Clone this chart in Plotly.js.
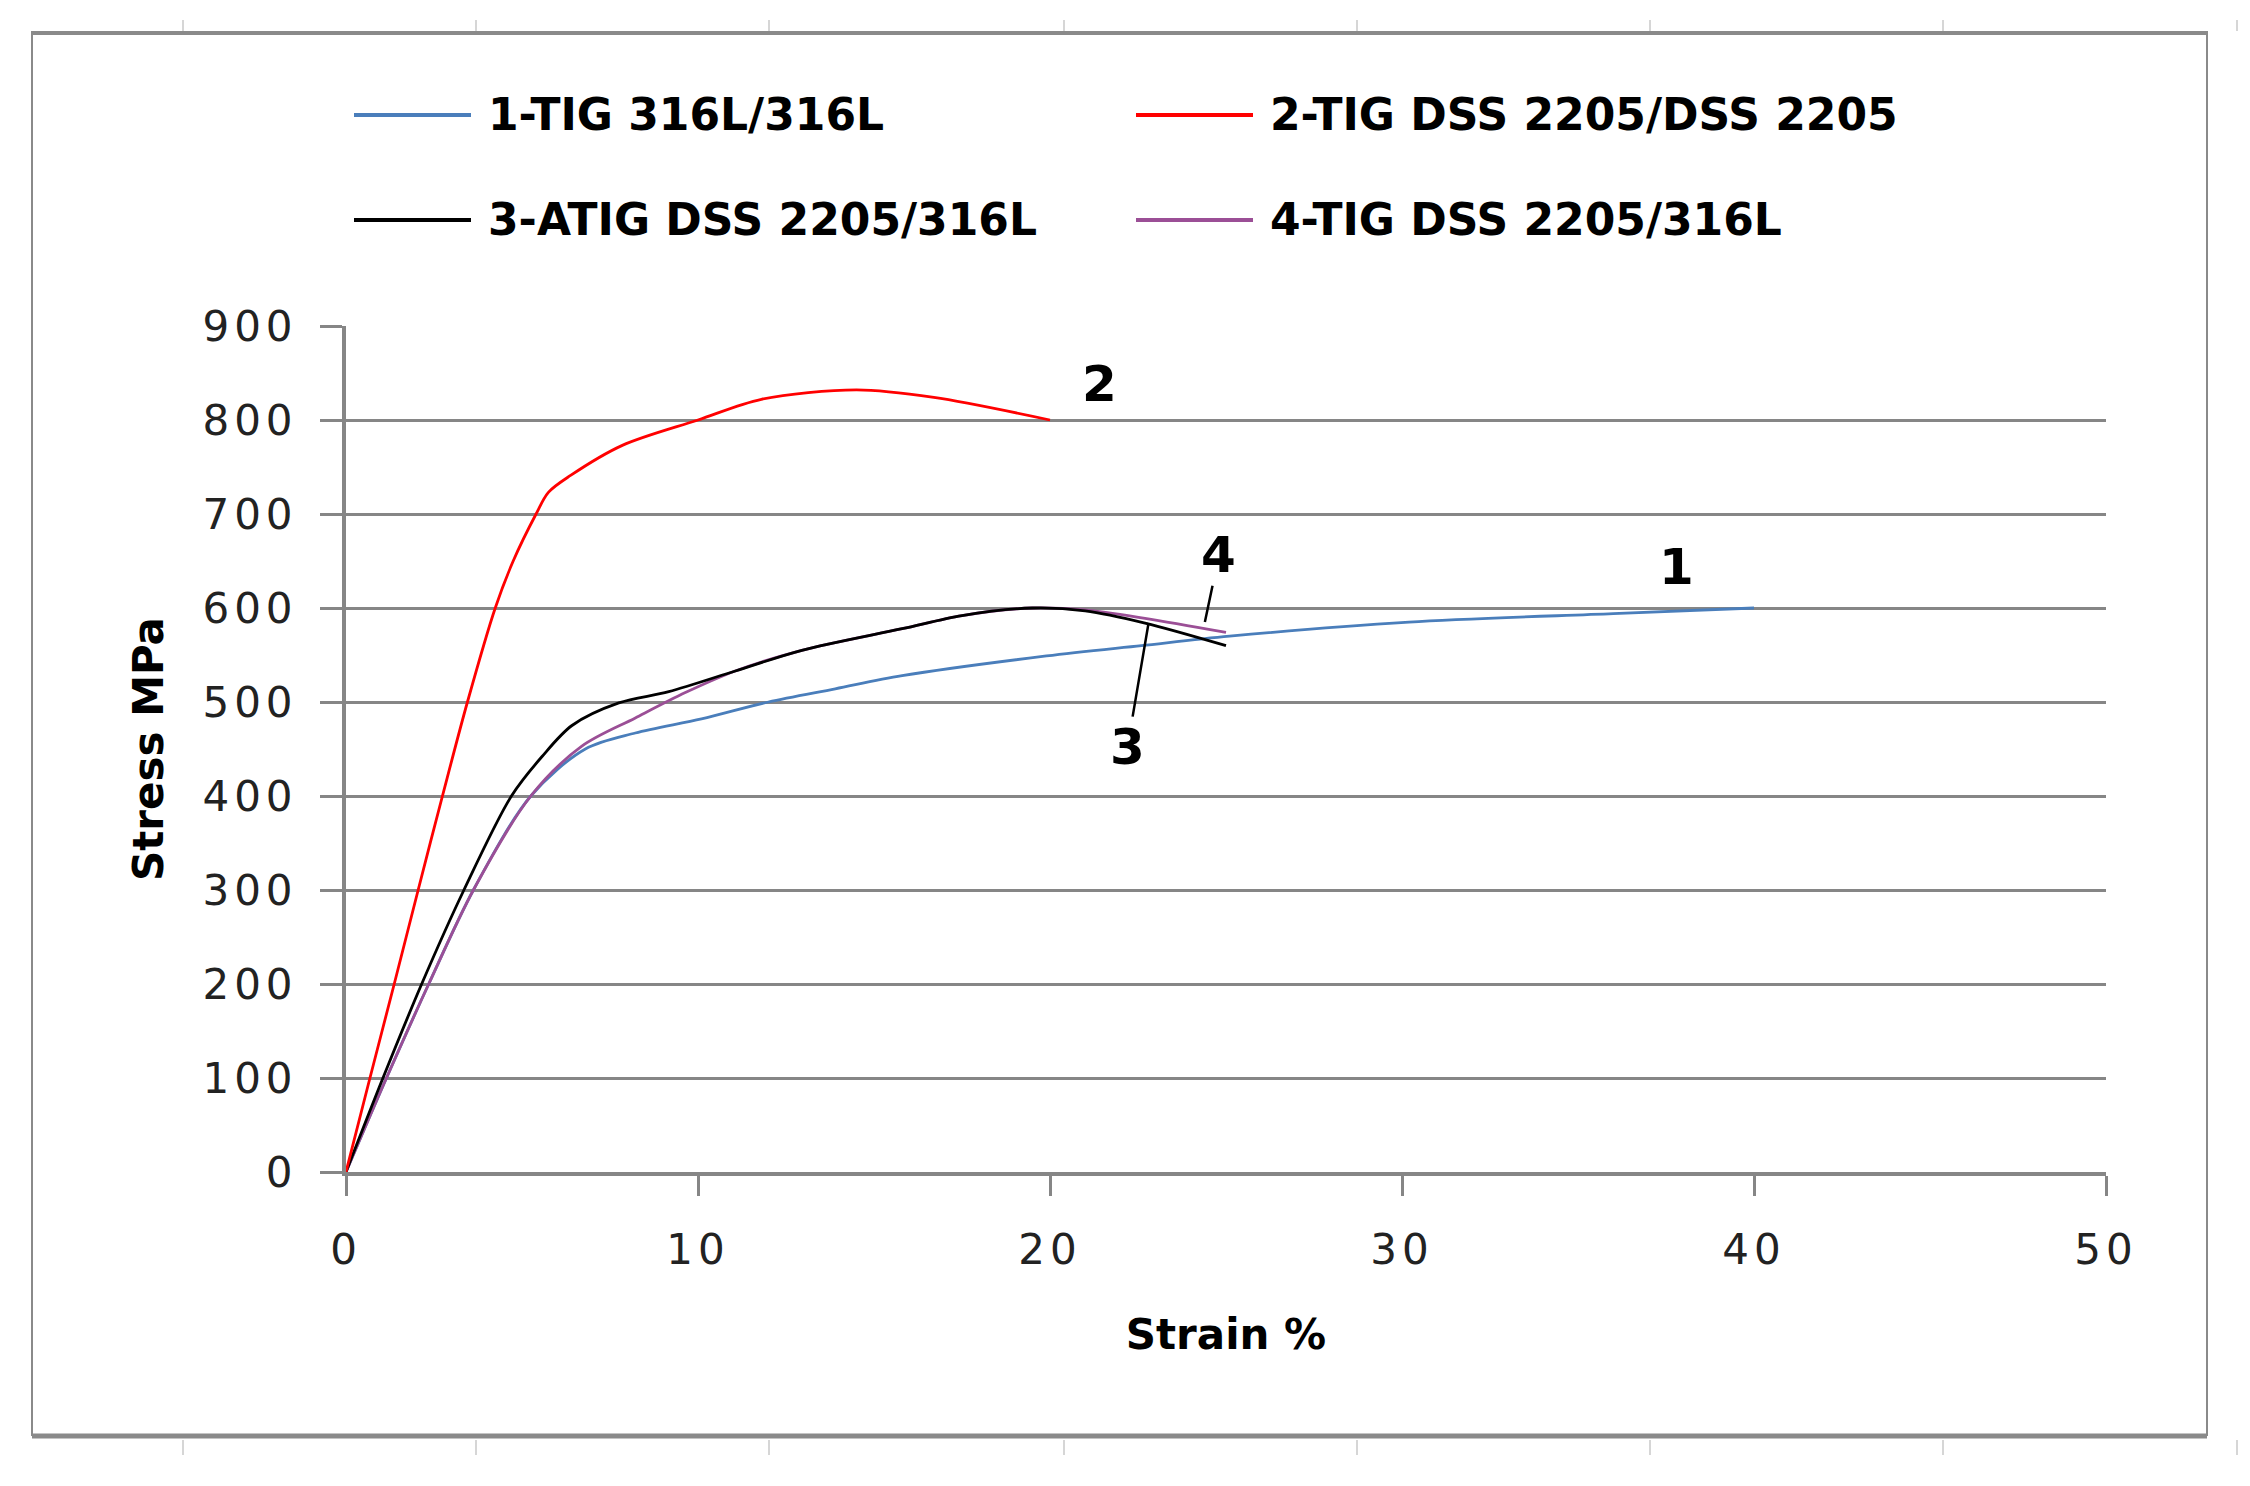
<!DOCTYPE html>
<html><head><meta charset="utf-8">
<script src="https://cdn.plot.ly/plotly-3.0.1.min.js"></script>
<style>
html,body{margin:0;padding:0;background:#fff;}
#chart{width:2250px;height:1486px;}
#chart .xtick text, #chart .ytick text{letter-spacing:5px;}
</style>
</head><body><div id="chart"></div>
<script>
// ---- data ----
const seriesNames = ["1-TIG 316L/316L", "2-TIG DSS 2205/DSS 2205", "3-ATIG DSS 2205/316L", "4-TIG DSS 2205/316L"];
const seriesColors = ["#4a7ebb", "#ff0000", "#000000", "#9b4f96"];

const strain1 = [0, 1.15, 2.35, 3.62, 5.25, 6.8, 8.22, 10.1, 12.0, 13.9, 15.8, 19.9, 22.6, 25.1, 30.2, 36, 40];
const stress1 = [0, 100, 200, 300, 400, 450, 467, 482, 500, 514, 528, 549, 560, 570, 585, 594, 600];

const strain2 = [0, 0.68, 1.37, 2.05, 2.74, 3.45, 4.24, 4.75, 5.40, 5.75, 6.38, 7.85, 10, 11.8, 14.5, 16.7, 20];
const stress2 = [0, 100, 200, 300, 400, 500, 600, 650, 700, 723, 741, 773, 800, 822, 832, 824, 800];

const strain3 = [0, 1.05, 2.15, 3.35, 4.7, 5.57, 6.42, 7.75, 9.17, 11.06, 12.95, 15.8, 17.5, 19.5, 21, 22.7, 25];
const stress3 = [0, 100, 200, 300, 400, 442, 475, 499, 511, 533, 555, 578, 592, 600, 597, 584, 560];

const strain4 = [0, 1.15, 2.35, 3.62, 5.25, 6.7, 8.22, 9.64, 11.06, 12.95, 15.8, 17.5, 19.5, 21, 22.7, 25];
const stress4 = [0, 100, 200, 300, 400, 453, 483, 510, 533, 555, 578, 592, 600, 598, 589, 574];

const xs = [strain1, strain2, strain3, strain4];
const ys = [stress1, stress2, stress3, stress4];

// curve labels: text, label position, leader tip
const curveLabels = ["1", "2", "3", "4"];
const labelX = [37.8, 21.4, 22.2, 24.8];
const labelY = [644, 838, 452, 656];
const leaderTipX = [null, null, 22.8, 24.4];
const leaderTipY = [null, null, 584, 585];

const xTicks = [0, 10, 20, 30, 40, 50];
const yTicks = [0, 100, 200, 300, 400, 500, 600, 700, 800, 900];

// ---- build ----
const traces = xs.map((x, i) => ({
  x: x, y: ys[i], type: "scatter", mode: "lines", name: seriesNames[i],
  line: {color: seriesColors[i], width: 2.8, shape: "spline", smoothing: 0.9},
  showlegend: false, hoverinfo: "skip"
}));
const order = [0, 3, 2, 1];
const data = order.map(i => traces[i]);

const FONT = "DejaVu Sans, Verdana, sans-serif";
const shapes = [];
const annotations = [];

// outer frame
shapes.push({type: "rect", xref: "paper", yref: "paper", x0: -314/1760, x1: 1861/1760, y0: (1172-1435)/846, y1: (1172-32)/846, line: {color: "#8a8a8a", width: 2}, layer: "below"});
shapes.push({type: "line", xref: "paper", yref: "paper", x0: -314/1760, x1: 1861/1760, y0: (1172-33)/846, y1: (1172-33)/846, line: {color: "#8a8a8a", width: 4}});
shapes.push({type: "line", xref: "paper", yref: "paper", x0: -314/1760, x1: 1861/1760, y0: (1172-1436)/846, y1: (1172-1436)/846, line: {color: "#8a8a8a", width: 5}});
// faint spreadsheet cell marks outside frame
const cellX = [183, 476, 769, 1064, 1357, 1650, 1943, 2237];
cellX.forEach(px => {
  const xp = (px - 346) / 1760;
  shapes.push({type: "line", xref: "paper", yref: "paper", x0: xp, x1: xp, y0: (1172-20)/846, y1: (1172-31)/846, line: {color: "#d6d6d6", width: 2}});
  shapes.push({type: "line", xref: "paper", yref: "paper", x0: xp, x1: xp, y0: (1172-1440)/846, y1: (1172-1455)/846, line: {color: "#d6d6d6", width: 2}});
});

// legend (manual, two columns)
const legX = [354, 1136, 354, 1136];
const legY = [115, 115, 220, 220];
seriesNames.forEach((nm, i) => {
  const x0 = (legX[i] - 346) / 1760, x1 = (legX[i] + 117 - 346) / 1760;
  const yp = (1172 - legY[i]) / 846;
  shapes.push({type: "line", xref: "paper", yref: "paper", x0: x0, x1: x1, y0: yp, y1: yp, line: {color: seriesColors[i], width: 4}});
  annotations.push({xref: "paper", yref: "paper", x: (legX[i] + 132 - 346) / 1760, y: yp, xanchor: "left", yanchor: "middle",
    text: "<b>" + nm + "</b>", showarrow: false, font: {family: FONT, size: 44, color: "#000"}});
});

// curve labels
curveLabels.forEach((t, i) => {
  const a = {x: labelX[i], y: labelY[i], xref: "x", yref: "y", text: "<b>" + t + "</b>",
    font: {family: FONT, size: 50, color: "#000"}, showarrow: false};
  if (leaderTipX[i] !== null) {
    a.showarrow = true; a.arrowhead = 0; a.arrowwidth = 2.5; a.arrowcolor = "#000";
    a.x = leaderTipX[i]; a.y = leaderTipY[i];
    a.axref = "x"; a.ayref = "y"; a.ax = labelX[i]; a.ay = labelY[i];
    a.standoff = 0; a.startstandoff = 0;
  }
  annotations.push(a);
});

const layout = {
  width: 2250, height: 1486,
  paper_bgcolor: "#fff", plot_bgcolor: "#fff",
  margin: {l: 346, r: 144, t: 326, b: 314},
  showlegend: false,
  xaxis: {
    range: [0, 50], tickvals: xTicks, ticktext: xTicks.map(String),
    showgrid: false, zeroline: false, showline: true, linecolor: "#868686", linewidth: 4,
    ticks: "outside", ticklen: 20, tickwidth: 3, tickcolor: "#868686",
    ticklabelstandoff: 18,
    tickfont: {family: FONT, size: 42, color: "#222"},
    title: {text: "<b>Strain %</b>", font: {family: FONT, size: 42, color: "#000"}, standoff: 47}
  },
  yaxis: {
    range: [0, 900], tickvals: yTicks, ticktext: yTicks.map(String),
    showgrid: true, gridcolor: "#868686", gridwidth: 3,
    zeroline: false, showline: true, linecolor: "#868686", linewidth: 4,
    ticks: "outside", ticklen: 22, tickwidth: 3, tickcolor: "#868686",
    ticklabelstandoff: 14,
    tickfont: {family: FONT, size: 42, color: "#222"},
    title: {text: "<b>Stress MPa</b>", font: {family: FONT, size: 42, color: "#000"}, standoff: 42}
  },
  shapes: shapes,
  annotations: annotations
};

Plotly.newPlot("chart", data, layout, {displayModeBar: false, staticPlot: true});
</script></body></html>
